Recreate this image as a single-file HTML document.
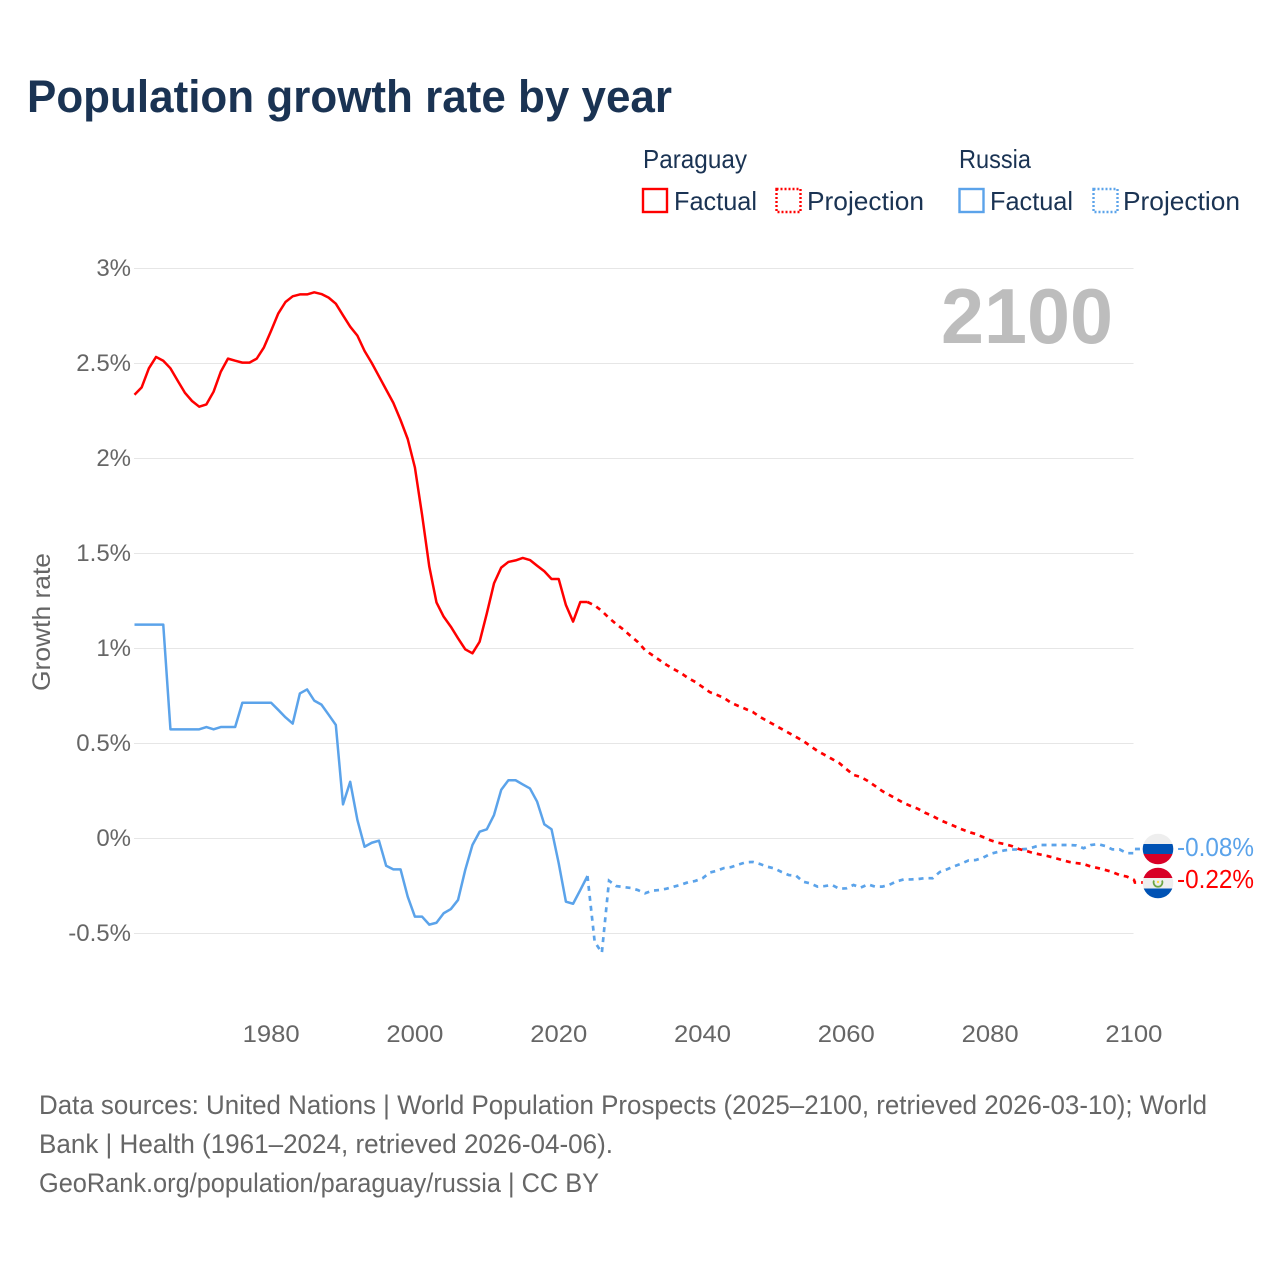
<!DOCTYPE html>
<html lang="en">
<head>
<meta charset="utf-8">
<title>Population growth rate by year</title>
<style>
html,body{margin:0;padding:0;background:#fff;width:1280px;height:1280px;overflow:hidden}
svg{display:block}
text{font-family:"Liberation Sans",sans-serif}
</style>
</head>
<body>
<svg id="chart" width="1280" height="1280" viewBox="0 0 1280 1280" xmlns="http://www.w3.org/2000/svg">
  <rect x="0" y="0" width="1280" height="1280" fill="#fff"/>
  <text x="27" y="112" font-size="45" font-weight="700" fill="#1a3353" textLength="645" lengthAdjust="spacingAndGlyphs">Population growth rate by year</text>

  <g font-size="26" fill="#1a3353">
    <text x="643" y="168" textLength="104" lengthAdjust="spacingAndGlyphs">Paraguay</text>
    <text x="959" y="168" textLength="72" lengthAdjust="spacingAndGlyphs">Russia</text>
    <rect x="643" y="189" width="24" height="23" fill="none" stroke="#ff0000" stroke-width="2.4"/>
    <text x="674" y="210" textLength="83" lengthAdjust="spacingAndGlyphs">Factual</text>
    <rect x="776.5" y="189" width="24" height="23" fill="none" stroke="#ff0000" stroke-width="2.4" stroke-dasharray="2 2"/>
    <text x="807" y="210" textLength="117" lengthAdjust="spacingAndGlyphs">Projection</text>
    <rect x="959.5" y="189" width="24" height="23" fill="none" stroke="#5ba3ea" stroke-width="2.4"/>
    <text x="990" y="210" textLength="83" lengthAdjust="spacingAndGlyphs">Factual</text>
    <rect x="1093.5" y="189" width="24" height="23" fill="none" stroke="#5ba3ea" stroke-width="2.4" stroke-dasharray="2 2"/>
    <text x="1123" y="210" textLength="117" lengthAdjust="spacingAndGlyphs">Projection</text>
  </g>

  <g id="grid"></g>
  <g id="yticks" font-size="24" fill="#666" text-anchor="end"></g>
  <g id="xticks" font-size="24.5" fill="#666" text-anchor="middle"></g>
  <text transform="translate(50,622) rotate(-90)" text-anchor="middle" font-size="25" fill="#666" textLength="138" lengthAdjust="spacingAndGlyphs">Growth rate</text>
  <text x="1113" y="343" text-anchor="end" font-size="78" font-weight="700" fill="#bdbdbd" textLength="172" lengthAdjust="spacingAndGlyphs">2100</text>

  <g id="series"></g>

  <g>
    <clipPath id="clip-ru"><circle cx="1158" cy="849" r="15.3"/></clipPath>
    <g clip-path="url(#clip-ru)">
      <rect x="1142" y="833" width="32" height="11" fill="#eeeeee"/>
      <rect x="1142" y="844" width="32" height="10" fill="#0052b4"/>
      <rect x="1142" y="854" width="32" height="12" fill="#d80027"/>
    </g>
  </g>
  <g>
    <clipPath id="clip-py"><circle cx="1158" cy="883" r="15.3"/></clipPath>
    <g clip-path="url(#clip-py)">
      <rect x="1142" y="867" width="32" height="11" fill="#d80027"/>
      <rect x="1142" y="878" width="32" height="10.5" fill="#eeeeee"/>
      <rect x="1142" y="888.5" width="32" height="12" fill="#0052b4"/>
      <path d="M1154 880.5a4.4 4.4 0 1 0 8 0" fill="none" stroke="#6da544" stroke-width="1.8"/>
      <circle cx="1158" cy="882" r="1.2" fill="#ffda44"/>
    </g>
  </g>
  <text id="label-ru" x="1177" y="856" font-size="25.5" fill="#5ba3ea" textLength="77" lengthAdjust="spacingAndGlyphs"></text>
  <text id="label-py" x="1177" y="888" font-size="25.5" fill="#ff0000" textLength="77" lengthAdjust="spacingAndGlyphs"></text>

  <g font-size="26.5" fill="#666">
    <text x="39" y="1114" textLength="1168" lengthAdjust="spacingAndGlyphs">Data sources: United Nations | World Population Prospects (2025–2100, retrieved 2026-03-10); World</text>
    <text x="39" y="1153" textLength="574" lengthAdjust="spacingAndGlyphs">Bank | Health (1961–2024, retrieved 2026-04-06).</text>
    <text x="39" y="1192" textLength="560" lengthAdjust="spacingAndGlyphs">GeoRank.org/population/paraguay/russia | CC BY</text>
  </g>
</svg>
<script>
const yTicks = [3, 2.5, 2, 1.5, 1, 0.5, 0, -0.5];
const xTicks = [1980, 2000, 2020, 2040, 2060, 2080, 2100];
const firstYear = 1961;
const lastFactualYear = 2024;

const paraguayFactual = [
  2.333,2.372,2.472,2.532,2.512,2.472,2.407,2.344,2.30,2.27,
  2.282,2.349,2.454,2.523,2.512,2.502,2.502,2.523,2.582,2.67,
  2.761,2.821,2.851,2.861,2.861,2.872,2.863,2.844,2.812,2.751,
  2.691,2.644,2.563,2.5,2.43,2.36,2.29,2.2,2.1,1.95,
  1.70,1.428,1.24,1.165,1.112,1.051,.993,.972,1.033,1.182,
  1.34,1.423,1.453,1.461,1.474,1.463,1.433,1.404,1.363,1.363,
  1.226,1.139,1.242,1.242
];
const paraguayProjection = [
  1.224,1.195,1.158,1.126,1.097,1.063,1.032,.989,.963,.937,
  .911,.889,.868,.842,.821,.795,.768,.753,.737,.711,
  .695,.679,.663,.637,.616,.595,.574,.553,.532,.511,
  .484,.458,.437,.416,.395,.363,.332,.321,.3,.274,
  .247,.226,.205,.184,.168,.153,.132,.116,.095,.079,
  .063,.047,.032,.021,.005,-.011,-.024,-.032,-.042,-.058,
  -.068,-.079,-.087,-.095,-.105,-.116,-.126,-.132,-.137,-.15,
  -.158,-.168,-.179,-.195,-.203,-.22
];
const russiaFactual = [
  1.123,1.123,1.123,1.123,1.123,.572,.572,.572,.572,.572,
  .584,.572,.584,.584,.584,.712,.712,.712,.712,.712,
  .674,.635,.602,.761,.782,.723,.702,.649,.595,.177,
  .296,.095,-.046,-.025,-.014,-.146,-.165,-.165,-.309,-.414,
  -.414,-.456,-.446,-.396,-.374,-.326,-.168,-.037,.033,.046,
  .121,.253,.304,.304,.282,.261,.191,.072,.046,-.133,
  -.335,-.346,-.274,-.2
];
const russiaProjection = [
  -.546,-.604,-.225,-.253,-.258,-.263,-.274,-.291,-.277,-.274,
  -.267,-.256,-.246,-.233,-.226,-.212,-.182,-.172,-.158,-.153,
  -.14,-.128,-.126,-.137,-.151,-.16,-.179,-.195,-.198,-.23,
  -.239,-.256,-.253,-.247,-.267,-.265,-.247,-.261,-.244,-.256,
  -.256,-.246,-.228,-.218,-.218,-.216,-.211,-.212,-.179,-.165,
  -.149,-.135,-.118,-.116,-.104,-.084,-.074,-.065,-.061,-.06,
  -.058,-.049,-.037,-.037,-.037,-.037,-.037,-.039,-.054,-.037,
  -.032,-.042,-.06,-.06,-.08,-.08
];

const NS = 'http://www.w3.org/2000/svg';
const xScale = function (year) { return 134.5 + (year - firstYear) * 7.19; };
const yScale = function (value) { return 838 - value * 190; };

function make(parent, tag, attrs, text) {
  const el = document.createElementNS(NS, tag);
  Object.keys(attrs).forEach(function (k) { el.setAttribute(k, attrs[k]); });
  if (text !== undefined) el.textContent = text;
  parent.appendChild(el);
  return el;
}

const grid = document.getElementById('grid');
const yTickGroup = document.getElementById('yticks');
yTicks.forEach(function (t) {
  const line = make(grid, 'line', { x1: 134, x2: 1133.5, y1: yScale(t) + 0.5, y2: yScale(t) + 0.5, stroke: '#e6e6e6', 'stroke-width': 1 });
  
  
  const label = make(yTickGroup, 'text', { x: 131, y: yScale(t) + 8 }, t + '%');
  
  
});

const xTickGroup = document.getElementById('xticks');
xTicks.forEach(function (t) {
  const label = make(xTickGroup, 'text', { x: xScale(t), y: 1042, textLength: 57, lengthAdjust: 'spacingAndGlyphs' }, String(t));
  
  
});

function pathFrom(values, startYear) {
  return values.map(function (v, i) {
    return (i ? 'L' : 'M') + xScale(startYear + i).toFixed(2) + ' ' + yScale(v).toFixed(2);
  }).join(' ');
}

const seriesGroup = document.getElementById('series');
const RED = '#ff0000';
const BLUE = '#5ba3ea';

function projectionPath(factual, projection, flagY) {
  const all = [factual[factual.length - 1]].concat(projection);
  const endX = xScale(firstYear + factual.length + projection.length - 1);
  return pathFrom(all, lastFactualYear) + ' L' + (endX + 1).toFixed(2) + ' ' + flagY + ' L' + (endX + 10).toFixed(2) + ' ' + flagY;
}

const ruFactualPath = make(seriesGroup, 'path', { d: pathFrom(russiaFactual, firstYear), fill: 'none', stroke: BLUE, 'stroke-width': 2.5, 'stroke-linejoin': 'round' });



const ruProjectionPath = make(seriesGroup, 'path', { d: projectionPath(russiaFactual, russiaProjection, 849), fill: 'none', stroke: BLUE, 'stroke-width': 2.7, 'stroke-dasharray': '5 5' });



const pyFactualPath = make(seriesGroup, 'path', { d: pathFrom(paraguayFactual, firstYear), fill: 'none', stroke: RED, 'stroke-width': 2.5, 'stroke-linejoin': 'round' });



const pyProjectionPath = make(seriesGroup, 'path', { d: projectionPath(paraguayFactual, paraguayProjection, 882.5), fill: 'none', stroke: RED, 'stroke-width': 2.7, 'stroke-dasharray': '5 5' });



document.getElementById('label-ru').textContent = russiaProjection[russiaProjection.length - 1].toFixed(2) + '%';
document.getElementById('label-py').textContent = paraguayProjection[paraguayProjection.length - 1].toFixed(2) + '%';
</script>
</body>
</html>
